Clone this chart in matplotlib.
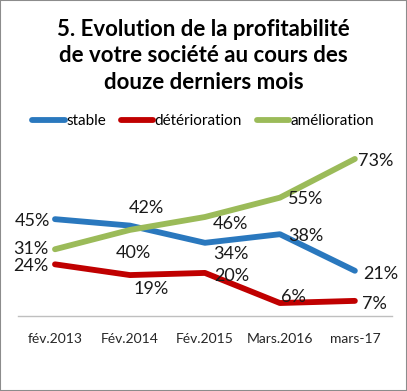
import matplotlib
matplotlib.use("Agg")
import matplotlib.pyplot as plt
from matplotlib.lines import Line2D
from matplotlib.patches import Rectangle

plt.rcParams["font.family"] = ["Lato", "DejaVu Sans"]

# Data
categories = ["fév.2013", "Fév.2014", "Fév.2015", "Mars.2016", "mars-17"]
stable = [45, 42, 34, 38, 21]
deterioration = [24, 19, 20, 6, 7]
amelioration = [31, 40, 46, 55, 73]

COLORS = {"stable": "#2A78BE", "deterioration": "#C00000", "amelioration": "#9BBB59"}

# label offsets in pixels (dx, dy) per point
OFF_STABLE = [(-23, -2), (16, 18), (26, -11), (26, -2), (26, -3)]
OFF_DET = [(-24, -2), (21, -14), (27, -3), (14, 6), (20, -3)]
OFF_AME = [(-24, 0), (3, -23), (26, -7), (26, -1), (21, -2)]


def main():
    fig = plt.figure(figsize=(4.07, 3.91), dpi=100)
    ax = fig.add_axes([0.043, 0.192, 0.921, 0.44])
    x = list(range(len(categories)))

    series = [
        ("stable", stable, COLORS["stable"], OFF_STABLE),
        ("détérioration", deterioration, COLORS["deterioration"], OFF_DET),
        ("amélioration", amelioration, COLORS["amelioration"], OFF_AME),
    ]
    handles = []
    for name, vals, col, offs in series:
        ax.plot(x, vals, color=col, linewidth=4.2, solid_capstyle="round",
                solid_joinstyle="round")
        handles.append(Line2D([0], [0], color=col, linewidth=4.2,
                              solid_capstyle="round", label=name))
        for xi, v, (dx, dy) in zip(x, vals, offs):
            ax.annotate(f"{v}%", xy=(xi, v), xytext=(dx, dy),
                        textcoords="offset pixels", ha="center", va="center",
                        fontsize=13, color="#1a1a1a")

    ax.set_xlim(-0.5, len(categories) - 0.5)
    ax.set_ylim(0, 80)
    ax.set_xticks(x)
    ax.set_xticklabels(categories, fontsize=10, color="#262626")
    ax.tick_params(axis="x", length=0, pad=12)
    ax.set_yticks([])
    for s in ["top", "right", "left"]:
        ax.spines[s].set_visible(False)
    ax.spines["bottom"].set_color("#BFBFBF")
    ax.spines["bottom"].set_linewidth(1)

    fig.text(0.5, 1 - 56 / 391, "5. Evolution de la profitabilité\n"
             "de votre société au cours des\ndouze derniers mois",
             ha="center", va="center", fontsize=16, fontweight="bold",
             linespacing=1.3)

    fig.legend(handles=handles, loc="center", bbox_to_anchor=(0.5, 1 - 121 / 391),
               ncol=3, frameon=False, fontsize=11, handlelength=2.1,
               handletextpad=0.1, columnspacing=1.0)

    fig.patches.append(Rectangle((0, 0), 1, 1, transform=fig.transFigure,
                                 fill=False, edgecolor="#8C8C8C", linewidth=1.5))

    fig.savefig("out.png", dpi=100)


if __name__ == "__main__":
    main()
